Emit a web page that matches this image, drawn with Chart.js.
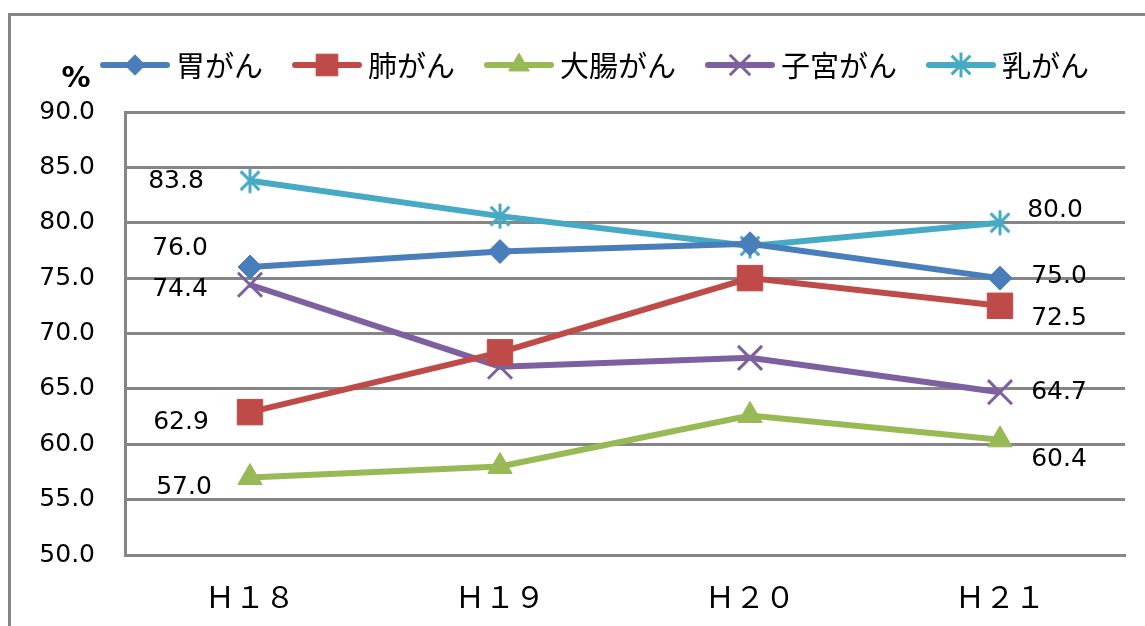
<!DOCTYPE html>
<html>
<head>
<meta charset="utf-8">
<script src="https://cdn.jsdelivr.net/npm/chart.js@4/dist/chart.umd.min.js"></script>
<style>
  html, body { margin: 0; padding: 0; background: #fff; }
  #wrap { width: 1145px; height: 626px; position: relative; }
</style>
</head>
<body>
<div id="wrap"><canvas id="myChart"></canvas></div>
<script>
const years = ['Ｈ１８', 'Ｈ１９', 'Ｈ２０', 'Ｈ２１'];
const stomach = [76.0, 77.4, 78.1, 75.0];
const lung = [62.9, 68.3, 75.0, 72.5];
const colon = [57.0, 58.0, 62.6, 60.4];
const uterus = [74.4, 67.0, 67.8, 64.7];
const breast = [83.8, 80.6, 77.9, 80.0];
const yTicks = [50, 55, 60, 65, 70, 75, 80, 85, 90];

const gray = '#868686';
const numFont = '"DejaVu Sans", sans-serif';
const jpFont = '"Noto Sans CJK JP", sans-serif';

// excel-like star marker: vertical bar + X
function makeStar(color, size) {
  const c = document.createElement('canvas');
  c.width = size; c.height = size;
  const g = c.getContext('2d');
  const m = size / 2, r = size / 2 - 1.5;
  g.strokeStyle = color;
  g.lineWidth = 3;
  g.beginPath();
  g.moveTo(m, m - r); g.lineTo(m, m + r);
  const d = r * 0.75;
  g.moveTo(m - d, m - d); g.lineTo(m + d, m + d);
  g.moveTo(m + d, m - d); g.lineTo(m - d, m + d);
  g.stroke();
  return c;
}

// offsets of the first / last value labels from their points
const firstOffsets = [[-70, -19], [-69, 10], [-66, 10], [-70, 5], [-74, 1]];
const lastOffsets = [[59, -2], [59, 13], [59, 20], [59, 0], [55, -12]];

function ds(label, data, color, style, radius, extra) {
  return Object.assign({
    label: label,
    data: data,
    borderColor: color,
    backgroundColor: color,
    borderWidth: 6,
    pointStyle: style,
    pointRadius: radius,
    pointHoverRadius: radius,
    pointBorderColor: color,
    pointBackgroundColor: color,
    pointBorderWidth: 1,
    tension: 0
  }, extra || {});
}

const datasets = [
  ds('胃がん', stomach, '#4a7ebb', 'rectRot', 12),
  ds('肺がん', lung, '#be4b48', 'rect', 18),
  ds('大腸がん', colon, '#98b954', 'triangle', 14),
  ds('子宮がん', uterus, '#7d60a0', 'crossRot', 17, { pointBorderWidth: 3 }),
  ds('乳がん', breast, '#46aac5', makeStar('#46aac5', 28), 14)
];

const extras = {
  id: 'extras',
  beforeDraw(chart) {
    const ctx = chart.ctx;
    ctx.save();
    ctx.strokeStyle = gray;
    ctx.lineWidth = 3;
    ctx.beginPath();
    ctx.moveTo(9.5, 626);
    ctx.lineTo(9.5, 14.5);
    ctx.lineTo(1145, 14.5);
    ctx.stroke();
    ctx.restore();
  },
  afterDraw(chart) {
    const ctx = chart.ctx;
    ctx.save();
    // value labels at first and last points
    ctx.fillStyle = '#000';
    ctx.font = '25px ' + numFont;
    ctx.textAlign = 'center';
    ctx.textBaseline = 'middle';
    chart.data.datasets.forEach((d, i) => {
      const meta = chart.getDatasetMeta(i);
      const p0 = meta.data[0], pn = meta.data[meta.data.length - 1];
      ctx.fillText(d.data[0].toFixed(1), p0.x + firstOffsets[i][0], p0.y + firstOffsets[i][1]);
      ctx.fillText(d.data[d.data.length - 1].toFixed(1), pn.x + lastOffsets[i][0], pn.y + lastOffsets[i][1]);
    });
    // % unit
    ctx.font = 'bold 29px ' + numFont;
    ctx.fillText('%', 76, 79);
    // legend: line + marker + text
    let x = 100;
    const y = 65;
    ctx.font = '29px ' + jpFont;
    ctx.textAlign = 'left';
    chart.data.datasets.forEach((d) => {
      ctx.strokeStyle = d.borderColor;
      ctx.lineWidth = 6;
      ctx.lineCap = 'round';
      ctx.beginPath();
      ctx.moveTo(x + 3, y);
      ctx.lineTo(x + 67, y);
      ctx.stroke();
      ctx.lineCap = 'butt';
      ctx.fillStyle = d.borderColor;
      ctx.lineWidth = d.pointBorderWidth;
      Chart.helpers.drawPoint(ctx, {
        pointStyle: d.pointStyle,
        radius: d.pointRadius * 0.85,
        rotation: 0,
        borderWidth: d.pointBorderWidth
      }, x + 35, y);
      ctx.fillStyle = '#000';
      ctx.fillText(d.label, x + 76, y + 1);
      x += 76 + ctx.measureText(d.label).width + 29;
    });
    ctx.restore();
  }
};

new Chart(document.getElementById('myChart').getContext('2d'), {
  type: 'line',
  data: { labels: years, datasets: datasets },
  options: {
    responsive: true,
    maintainAspectRatio: false,
    animation: false,
    layout: { padding: { top: 112, right: 8, left: 0, bottom: 0 } },
    plugins: {
      legend: { display: false },
      tooltip: { enabled: false }
    },
    scales: {
      x: {
        offset: true,
        grid: { display: false, drawTicks: false },
        border: { display: true, color: gray, width: 3 },
        ticks: { color: '#000', font: { family: jpFont, size: 30 }, padding: 24 },
        afterFit(scale) { scale.height = 71; }
      },
      y: {
        min: 50,
        max: 90,
        afterBuildTicks(scale) { scale.ticks = yTicks.map(v => ({ value: v })); },
        grid: { color: gray, lineWidth: 3, drawTicks: false },
        border: { display: true, color: gray, width: 3 },
        ticks: {
          color: '#000',
          font: { family: numFont, size: 25 },
          padding: 30,
          callback: v => Number(v).toFixed(1)
        },
        afterFit(scale) { scale.width = 125; }
      }
    }
  },
  plugins: [extras]
});
</script>
</body>
</html>
